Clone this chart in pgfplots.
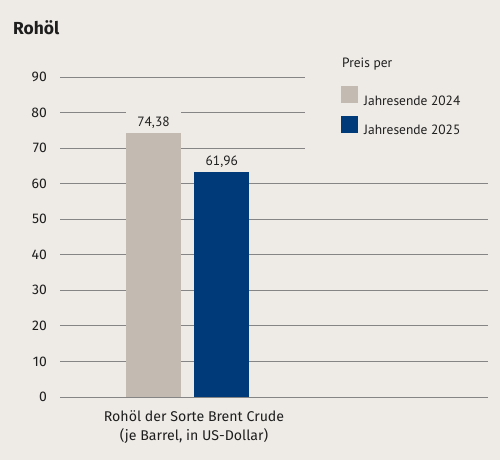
\documentclass[border=0pt]{standalone}
\usepackage{fontspec}
\setmainfont{Fira Sans}
\newfontfamily\condfont{PT Sans}
\usepackage{pgfplots}
\pgfplotsset{compat=1.18}
\definecolor{bgc}{HTML}{EEEBE6}
\definecolor{oil24}{HTML}{C3BBB2}
\definecolor{oil25}{HTML}{003A78}
\definecolor{gridc}{HTML}{858585}
\definecolor{txt}{HTML}{1E1E1E}
\pgfplotsset{
  sqleg/.style={legend image code/.code={\fill[##1] (0bp,-1.6bp) rectangle (17bp,15.4bp);}},
  vallabel/.style={nodes near coords style={anchor=south, inner sep=0pt, fill=bgc,
      minimum width=55bp, text height=16bp, text depth=6bp,
      font=\condfont\fontsize{13.5}{16}\selectfont, text=txt}},
}
\begin{document}
\begin{tikzpicture}
\fill[bgc] (0,0) rectangle (500bp,460bp);
\useasboundingbox (0,0) rectangle (500bp,460bp);
\node[anchor=base west, inner sep=0pt, font=\fontsize{17.5}{20}\selectfont\bfseries, text=txt]
  at (13bp,425bp) {Rohöl};
\node[anchor=base west, inner sep=0pt, font=\condfont\fontsize{13.5}{16}\selectfont, text=txt]
  at (342bp,392bp) {Preis per};
\begin{axis}[
  at={(60bp,63bp)}, anchor=south west,
  scale only axis, width=428bp, height=320bp,
  xmin=60, xmax=488, ymin=0, ymax=90,
  clip=false,
  ytick={0,10,...,90},
  xtick={194},
  xticklabels={{Rohöl der Sorte Brent Crude\\(je Barrel{,} in US-Dollar)}},
  xticklabel style={align=center, inner sep=0pt, yshift=-13bp,
    font=\fontsize{14.2}{20}\selectfont, text=txt},
  yticklabel style={inner sep=0pt, xshift=-13bp,
    font=\fontsize{14}{16}\selectfont, text=txt},
  /pgf/number format/assume math mode=true,
  major tick length=0pt,
  tick style={draw=none},
  axis line style={draw=none},
  ymajorgrids,
  grid style={gridc, line width=0.9bp},
  legend cell align=left,
  legend style={at={(axis cs:341,87.55)}, anchor=north west, draw=none, fill=none,
    inner sep=0pt, row sep=8.7bp, column sep=6bp,
    nodes={inner sep=0pt}, font=\condfont\fontsize{13.5}{16}\selectfont, text=txt},
]
\addplot[ybar, bar width=55, bar shift=0pt, draw=none, fill=oil24, sqleg,
  nodes near coords={74,38}, vallabel] coordinates {(153.5,74.38)};
\addlegendentry{Jahresende 2024}
\addplot[ybar, bar width=55, bar shift=0pt, draw=none, fill=oil25, sqleg,
  nodes near coords={61,96}, vallabel] coordinates {(221.8,63.4)};
\addlegendentry{Jahresende 2025}
\fill[bgc] (axis cs:305,66) rectangle (axis cs:500,91);
\end{axis}
\end{tikzpicture}
\end{document}
